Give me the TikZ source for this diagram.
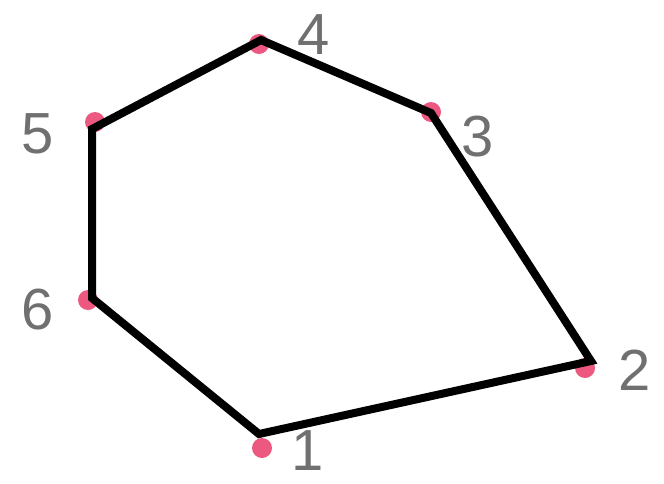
\documentclass[tikz,border=0pt]{standalone}
\usepackage{fontspec}
\setmainfont{Liberation Sans}
\usepackage{tikz}
\usetikzlibrary{positioning}
\definecolor{dotpink}{RGB}{236,88,128}
\definecolor{labelgray}{RGB}{112,112,112}

\begin{document}
\begin{tikzpicture}[
  x=1pt,y=-1pt,
  every node/.style={inner sep=0pt},
  hulldot/.style={circle,fill=dotpink,minimum size=20pt},
  hulllabel/.style={text=labelgray,font=\fontsize{58}{60}\selectfont},
  hullline/.style={line width=8pt,black,line join=miter},
]
  \useasboundingbox (0,0) rectangle (664,483);
  % Points
  \node[hulldot] (d1) at (262,448) {};
  \node[hulldot] (d2) at (585,368) {};
  \node[hulldot] (d3) at (431,112) {};
  \node[hulldot] (d4) at (259,44) {};
  \node[hulldot] (d5) at (95,122) {};
  \node[hulldot] (d6) at (88,300) {};
  % Labels
  \node[hulllabel] (l1) at (308,451) {1};
  \node[hulllabel] (l2) at (635,370) {2};
  \node[hulllabel] (l3) at (478,137) {3};
  \node[hulllabel] (l4) at (314,35) {4};
  \node[hulllabel] (l5) at (38,134) {5};
  \node[hulllabel] (l6) at (38,310) {6};
  % Hull corners
  \coordinate (v1) at (259,434);
  \coordinate (v2) at (591,361);
  \coordinate (v3) at (431,113);
  \coordinate (v4) at (261,40);
  \coordinate (v5) at (92,129);
  \coordinate (v6) at (92,298);
  \draw[hullline] (v1) -- (v2) -- (v3) -- (v4) -- (v5) -- (v6) -- cycle;
\end{tikzpicture}
\end{document}
